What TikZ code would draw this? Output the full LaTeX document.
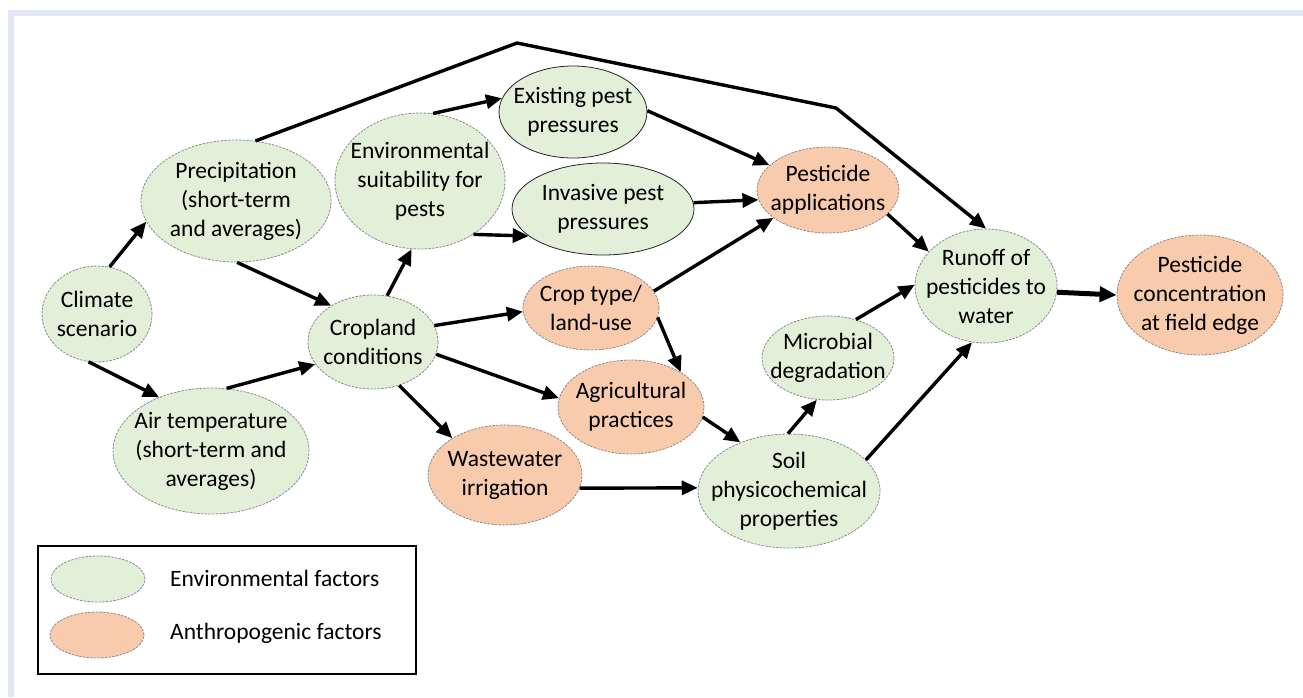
\documentclass[tikz,border=0pt]{standalone}
\usepackage{fontspec}
\setmainfont{Carlito}
\usetikzlibrary{shapes.geometric,arrows.meta}
\definecolor{envgreen}{HTML}{E2EFD9}
\definecolor{anthorange}{HTML}{F8CBAD}
\definecolor{framecol}{HTML}{E3E6F3}
\definecolor{rimgray}{HTML}{8C8C8C}
\tikzset{
  base/.style={ellipse, inner sep=0pt, line width=0.8pt},
  envnode/.style={base, fill=envgreen, draw=rimgray, dash pattern=on 2.5pt off 1.2pt},
  antnode/.style={base, fill=anthorange, draw=rimgray, dash pattern=on 2.5pt off 1.2pt},
  solidnode/.style={base, fill=envgreen, draw=black!85, solid},
  txt/.style={align=center, font=\fontsize{23.5}{29}\selectfont, inner sep=0pt, text=black},
  arr/.style={line width=3.4pt, -{Triangle[length=16pt,width=14pt]}, line join=round},
  bigarr/.style={line width=5pt, -{Triangle[length=17pt,width=15pt]}},
}
\begin{document}
\begin{tikzpicture}[x=1pt,y=-1pt]
\useasboundingbox (0,0) rectangle (1303,697);
\fill[white] (0,0) rectangle (1303,697);
% frame
\fill[framecol] (8,10) rectangle (1303,16);
\fill[framecol] (8,10) rectangle (14,697);

% nodes
\node[envnode, minimum width=110pt, minimum height=96pt] (C) at (97,314) {};
\node[txt] at (C) {Climate\\scenario};
\node[envnode, minimum width=190pt, minimum height=122pt] (P) at (236,201) {};
\node[txt] at (P) {Precipitation\\(short-term\\and averages)};
\node[envnode, minimum width=170pt, minimum height=136pt] (E) at (420,181) {};
\node[txt] at (E) {Environmental\\suitability for\\pests};
\node[solidnode, minimum width=148pt, minimum height=92pt] (X) at (573,112) {};
\node[txt] at (X) {Existing pest\\pressures};
\node[solidnode, minimum width=182pt, minimum height=92pt] (I) at (603,209) {};
\node[txt] at (I) {Invasive pest\\pressures};
\node[antnode, minimum width=142pt, minimum height=86pt] (A) at (828,190) {};
\node[txt] at (A) {Pesticide\\applications};
\node[antnode, minimum width=136pt, minimum height=84pt] (T) at (591,308) {};
\node[txt] at (T) {Crop type/\\land-use};
\node[envnode, minimum width=130pt, minimum height=94pt] (L) at (373,342) {};
\node[txt] at (L) {Cropland\\conditions};
\node[envnode, minimum width=196pt, minimum height=126pt] (M) at (211,451) {};
\node[txt] at (M) {Air temperature\\(short-term and\\averages)};
\node[antnode, minimum width=146pt, minimum height=94pt] (G) at (631,407) {};
\node[txt] at (G) {Agricultural\\practices};
\node[antnode, minimum width=154pt, minimum height=100pt] (W) at (505,475) {};
\node[txt] at (W) {Wastewater\\irrigation};
\node[envnode, minimum width=132pt, minimum height=84pt] (B) at (828,358) {};
\node[txt] at (B) {Microbial\\degradation};
\node[envnode, minimum width=182pt, minimum height=114pt] (S) at (789,491) {};
\node[txt] at (S) {Soil\\physicochemical\\properties};
\node[envnode, minimum width=142pt, minimum height=114pt] (R) at (986,286) {};
\node[txt] at (R) {Runoff of\\pesticides to\\water};
\node[antnode, minimum width=166pt, minimum height=120pt] (K) at (1200,295) {};
\node[txt] at (K) {Pesticide\\concentration\\at field edge};

% bend points of the long connector
\coordinate (k1) at (517,43);
\coordinate (k2) at (836,108);

% connectors
\draw[arr] (C.75) -- (P.193);
\draw[arr] (C.260) -- (M.134);
\draw[arr] (P.271) -- (L.139.5);
\draw[arr] (M.76) -- (L.201);
\draw[arr] (P.72) -- (k1) -- (k2) -- (R.90);
\draw[arr] (L.73) -- (E.263);
\draw[arr] (E.79) -- (X.169);
\draw[arr] (E.315) -- (I.200);
\draw[arr] (X.1.5) -- (A.157);
\draw[arr] (I.4) -- (A.188);
\draw[arr] (T.15) -- (A.207);
\draw[arr] (L.15) -- (T.183);
\draw[arr] (T.352) -- (G.35.5);
\draw[arr] (L.349) -- (G.173);
\draw[arr] (L.301) -- (W.145);
\draw[arr] (G.352) -- (S.135.5);
\draw[arr] (W.350) -- (S.178);
\draw[arr] (S.91) -- (B.255);
\draw[arr] (B.54) -- (R.179);
\draw[arr] (S.22) -- (R.256.5);
\draw[arr] (A.338) -- (R.149.5);
\draw[bigarr] (R.355) -- (K.180);

% legend
\node[draw=black, line width=2.2pt, minimum width=378pt, minimum height=128pt, inner sep=0pt] (leg) at (227,610) {};
\node[envnode, minimum width=94pt, minimum height=46pt] (le) at (98,579) {};
\node[antnode, minimum width=94pt, minimum height=46pt] (la) at (97,635) {};
\node[txt, anchor=west] at (170,578) {Environmental factors};
\node[txt, anchor=west] at (170,633) {Anthropogenic factors};
\end{tikzpicture}
\end{document}
